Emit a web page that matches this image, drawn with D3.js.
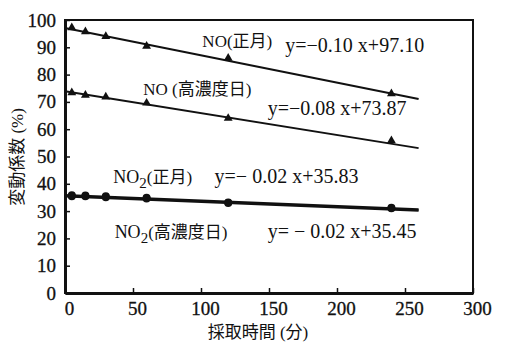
<!DOCTYPE html>
<html>
<head>
<meta charset="utf-8">
<script src="https://cdn.jsdelivr.net/npm/d3@7"></script>
<style>
  body { margin: 0; background: #fff; }
  svg text { font-family: "Liberation Serif", "Noto Sans CJK JP", serif; fill: #111; }
</style>
</head>
<body>
<svg id="chart" width="505" height="345"></svg>
<script>
// sampling times (min)
const times = [5, 15, 30, 60, 120, 240];

// coefficient of variation (%)
const noShogatsu = [97.2, 95.7, 94.0, 90.4, 86.0, 73.0];
const noHigh = [73.4, 72.5, 71.8, 69.6, 64.0, 55.8];
const no2Shogatsu = [35.8, 35.7, 35.4, 34.9, 33.2, 31.2];
const no2High = [35.4, 35.4, 35.1, 34.6, 33.0, 31.0];

// fitted line end points [x, y]
const fitNoShogatsu = [[0, 97.1], [260, 71.1]];
const fitNoHigh = [[0, 73.87], [260, 53.07]];
const fitNo2Shogatsu = [[0, 35.83], [260, 30.63]];
const fitNo2High = [[0, 35.45], [260, 30.25]];

const xTicks = [0, 50, 100, 150, 200, 250, 300];
const yTicks = [0, 10, 20, 30, 40, 50, 60, 70, 80, 90, 100];

// annotation texts, placed in data units
const names = [
    { text: "NO(正月)", x: 101, y: 90 },
    { text: "NO (高濃度日)", x: 57.5, y: 72.5 }
];
const equations = [
    { text: "y=−0.10 x+97.10", x: 162, y: 88.3 },
    { text: "y=−0.08 x+73.87", x: 149, y: 65.2 },
    { text: "y=− 0.02 x+35.83", x: 110, y: 40.3 },
    { text: "y= − 0.02 x+35.45", x: 149, y: 20.1 }
];
const subNames = [
    { main: "NO", sub: "2", rest: "(正月)", x: 35.5, y: 40.3 },
    { main: "NO", sub: "2", rest: "(高濃度日)", x: 36.5, y: 20.1 }
];

const svg = d3.select("#chart"),
    margin = { top: 20, right: 32, bottom: 52, left: 65 },
    width = +svg.attr("width") - margin.left - margin.right,
    height = +svg.attr("height") - margin.top - margin.bottom,
    g = svg.append("g").attr("transform", `translate(${margin.left},${margin.top})`);

const x = d3.scaleLinear().domain([0, 300]).range([0, width]);
const y = d3.scaleLinear().domain([0, 100]).range([height, 0]);

// frame
g.append("rect")
    .attr("width", width)
    .attr("height", height)
    .attr("fill", "none")
    .attr("stroke", "#111")
    .attr("stroke-width", 2);

const xAxis = g.append("g")
    .attr("transform", `translate(0,${height})`)
    .call(d3.axisBottom(x).tickValues(xTicks).tickSizeInner(-5).tickSizeOuter(0).tickPadding(9));
const yAxis = g.append("g")
    .call(d3.axisLeft(y).tickValues(yTicks).tickSizeInner(-5).tickSizeOuter(0).tickPadding(9));

[xAxis, yAxis].forEach(a => {
    a.select(".domain").attr("stroke", "#111").attr("stroke-width", 3);
    a.selectAll(".tick line").attr("stroke", "#111").attr("stroke-width", 1.5);
    a.selectAll(".tick text")
        .style("font-size", "19px")
        .style("font-family", "Liberation Serif")
        .attr("fill", "#111")
        .attr("stroke", "#111")
        .attr("stroke-width", 0.3);
});
xAxis.selectAll(".tick text").attr("dx", 4);

const line = d3.line().x(d => x(d[0])).y(d => y(d[1]));

[
    { fit: fitNoShogatsu, w: 2 },
    { fit: fitNoHigh, w: 2 },
    { fit: fitNo2Shogatsu, w: 2.5 },
    { fit: fitNo2High, w: 2.5 }
].forEach(s => {
    g.append("path")
        .attr("d", line(s.fit))
        .attr("fill", "none")
        .attr("stroke", "#111")
        .attr("stroke-width", s.w);
});

const tri = d3.symbol().type(d3.symbolTriangle).size(34);
const circ = d3.symbol().type(d3.symbolCircle).size(50);

[
    { values: noShogatsu, sym: tri },
    { values: noHigh, sym: tri },
    { values: no2Shogatsu, sym: circ },
    { values: no2High, sym: circ }
].forEach(s => {
    g.selectAll(null)
        .data(times.map((t, i) => [t, s.values[i]]))
        .enter()
        .append("path")
        .attr("d", s.sym)
        .attr("transform", d => `translate(${x(d[0])},${y(d[1])})`)
        .attr("fill", "#111");
});

g.selectAll(".name")
    .data(names)
    .enter()
    .append("text")
    .attr("class", "name")
    .attr("x", d => x(d.x))
    .attr("y", d => y(d.y))
    .style("font-size", "17px")
    .text(d => d.text);

g.selectAll(".eq")
    .data(equations)
    .enter()
    .append("text")
    .attr("class", "eq")
    .attr("x", d => x(d.x))
    .attr("y", d => y(d.y))
    .style("font-size", "20px")
    .text(d => d.text);

subNames.forEach(d => {
    const t = g.append("text")
        .attr("x", x(d.x))
        .attr("y", y(d.y))
        .style("font-size", "18px");
    t.append("tspan").text(d.main);
    t.append("tspan").attr("dy", 5).style("font-size", "15px").text(d.sub);
    t.append("tspan").attr("dy", -5).style("font-size", "17px").text(d.rest);
});

// axis titles
svg.append("text")
    .attr("transform", "translate(23,157) rotate(-90)")
    .attr("text-anchor", "middle")
    .style("font-size", "17px")
    .text("変動係数 (%)");

svg.append("text")
    .attr("x", 258)
    .attr("y", 338)
    .attr("text-anchor", "middle")
    .style("font-size", "17px")
    .text("採取時間 (分)");
</script>
</body>
</html>
